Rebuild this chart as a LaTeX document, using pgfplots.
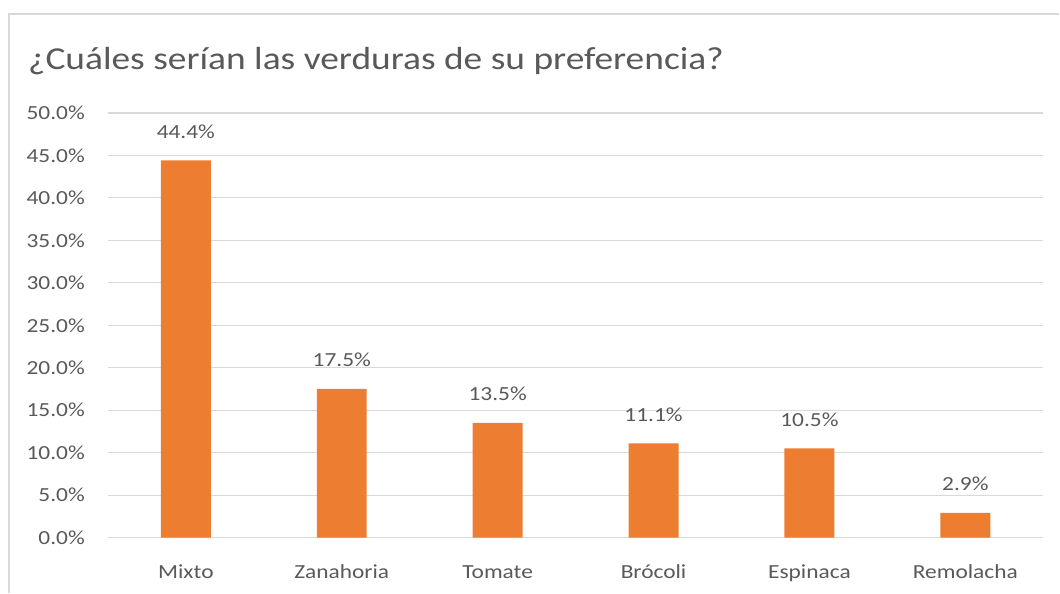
\documentclass[border=0pt]{standalone}
\usepackage{pgfplots}
\pgfplotsset{compat=1.18}
\usepackage{fontspec}
\setmainfont{Carlito}[FakeStretch=1.17]

\definecolor{barorange}{HTML}{ED7D31}
\definecolor{txtgray}{HTML}{595959}
\definecolor{gridgray}{HTML}{D9D9D9}

\begin{document}
\begin{tikzpicture}[x=1pt,y=1pt]
  % page frame, 1px = 1pt
  \path (0,0) rectangle (1060,593);
  \draw[gridgray, line width=1.5pt] (9,0) -- (9,579) -- (1060,579);
  \node[anchor=base west, inner sep=0pt, text=txtgray,
        font=\fontsize{32}{38}\selectfont] at (28,523)
        {¿Cuáles serían las verduras de su preferencia?};

  \begin{axis}[
      at={(108pt,55pt)}, anchor=south west,
      scale only axis,
      width=936pt, height=425pt,
      ybar, bar width=50pt,
      xmin=-0.5, xmax=5.5,
      ymin=0, ymax=50,
      xtick=data,
      xticklabels={Mixto, Zanahoria, Tomate, Brócoli, Espinaca, Remolacha},
      ytick={0,5,...,50},
      axis line style={draw=none},
      major tick length=0pt,
      ymajorgrids,
      grid style={gridgray, line width=1.2pt},
      /pgf/number format/assume math mode=true,
      ticklabel style={text=txtgray, font=\fontsize{20}{24}\selectfont},
      yticklabel={\pgfmathprintnumber[fixed,fixed zerofill,precision=1]{\tick}\%},
      yticklabel style={anchor=east, inner sep=0pt, xshift=-23pt},
      xticklabel style={anchor=base, inner sep=0pt, yshift=-41pt},
      nodes near coords={\pgfmathprintnumber[fixed,fixed zerofill,precision=1,assume math mode=true]{\pgfplotspointmeta}\%},
      nodes near coords style={anchor=base, inner sep=0pt, yshift=22pt,
        text=txtgray, font=\fontsize{20}{24}\selectfont},
    ]
    \addplot[fill=barorange, draw=none] coordinates {
      (0,44.4) (1,17.5) (2,13.5) (3,11.1) (4,10.5) (5,2.9)
    };
  \end{axis}
\end{tikzpicture}
\end{document}
